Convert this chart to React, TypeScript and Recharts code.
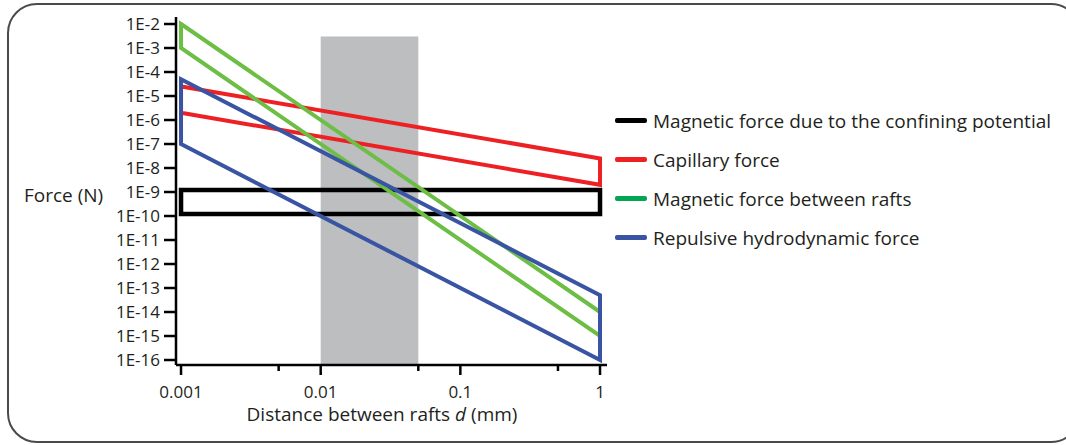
import React from 'react';
import { ComposedChart, Line, XAxis, YAxis, ReferenceArea, Label } from 'recharts';

// ---- data ----
const distanceEnds = [0.001, 1];
const xMajorTicks = [0.001, 0.01, 0.1, 1];
const xMajorLabels = ['0.001', '0.01', '0.1', '1'];
const xMinorTicks = [0.005, 0.05, 0.5];
const yTicks = [1e-2, 1e-3, 1e-4, 1e-5, 1e-6, 1e-7, 1e-8, 1e-9, 1e-10, 1e-11, 1e-12, 1e-13, 1e-14, 1e-15, 1e-16];
const yTickLabels = ['1E-2', '1E-3', '1E-4', '1E-5', '1E-6', '1E-7', '1E-8', '1E-9', '1E-10', '1E-11', '1E-12', '1E-13', '1E-14', '1E-15', '1E-16'];

const seriesNames = [
  'Magnetic force due to the confining potential',
  'Capillary force',
  'Magnetic force between rafts',
  'Repulsive hydrodynamic force',
];
const lineColors = ['#000000', '#ed2024', '#6dbe45', '#3a54a4'];
const legendColors = ['#000000', '#ed2024', '#00a651', '#3a54a4'];

const confiningUpper = [1.2e-9, 1.2e-9];
const confiningLower = [1.2e-10, 1.2e-10];
const capillaryUpper = [2.5e-5, 2.5e-8];
const capillaryLower = [2e-6, 2e-9];
const raftsUpper = [1e-2, 1e-14];
const raftsLower = [1e-3, 1e-15];
const hydroUpper = [5e-5, 5e-14];
const hydroLower = [1e-7, 1e-16];

const shadedRange = [0.01, 0.05];
const shadedTop = 3e-3;

const xDomain = [Math.pow(10, -3.036), Math.pow(10, 0.05)];
const yDomain = [Math.pow(10, -16.208), Math.pow(10, -1.708)];

// build closed band polygons (upper edge, right side, lower edge, left side)
const band = (upper: number[], lower: number[]) => [
  { x: distanceEnds[0], y: upper[0] },
  { x: distanceEnds[1], y: upper[1] },
  { x: distanceEnds[1], y: lower[1] },
  { x: distanceEnds[0], y: lower[0] },
  { x: distanceEnds[0], y: upper[0] },
  { x: distanceEnds[1], y: upper[1] },
];

const bands = [
  band(confiningUpper, confiningLower),
  band(capillaryUpper, capillaryLower),
  band(raftsUpper, raftsLower),
  band(hydroUpper, hydroLower),
];
const drawOrder = [1, 0, 2, 3];

const FONT = '"Open Sans", "Noto Sans", sans-serif';
const TEXT = '#231f20';

const XTick = (props: any) => {
  const { x, y, payload } = props;
  const idx = xMajorTicks.indexOf(payload.value);
  const major = idx >= 0;
  return (
    <g>
      <line x1={x} x2={x} y1={y} y2={y + (major ? 10 : 6)} stroke="#000" strokeWidth={2.5} />
      {major && (
        <text x={x} y={y + 33} textAnchor="middle" fontFamily={FONT} fontSize={17} fill={TEXT}>
          {xMajorLabels[idx]}
        </text>
      )}
    </g>
  );
};

const YTick = (props: any) => {
  const { x, y, payload } = props;
  const idx = yTicks.findIndex((t) => Math.abs(Math.log10(t) - Math.log10(payload.value)) < 1e-6);
  return (
    <g>
      <line x1={x - 12} x2={x} y1={y} y2={y} stroke="#000" strokeWidth={2.5} />
      <text x={x - 16} y={y + 6} textAnchor="end" fontFamily={FONT} fontSize={17} fill={TEXT}>
        {idx >= 0 ? yTickLabels[idx] : ''}
      </text>
    </g>
  );
};

export default function App() {
  return (
    <div style={{ position: 'absolute', left: 0, top: 0, width: 1066, height: 445, background: '#fff', overflow: 'hidden' }}>
      <div
        style={{
          position: 'absolute',
          left: 7,
          top: 3,
          width: 1070,
          height: 436,
          border: '2px solid #4a4a4a',
          borderRadius: 30,
        }}
      />
      <div style={{ position: 'absolute', left: 0, top: 0 }}>
        <ComposedChart width={1066} height={445} margin={{ top: 17, right: 459, bottom: 50, left: 0 }}>
          <XAxis
            dataKey="x"
            type="number"
            scale="log"
            domain={xDomain}
            allowDataOverflow
            ticks={[...xMajorTicks, ...xMinorTicks]}
            tick={<XTick />}
            tickLine={false}
            tickSize={0}
            tickMargin={0}
            height={30}
            axisLine={{ stroke: '#000', strokeWidth: 2.5 }}
            interval={0}
          >
            <Label
              content={() => (
                <text x={382} y={421} textAnchor="middle" fontFamily={FONT} fontSize={19} fill={TEXT}>
                  Distance between rafts <tspan fontStyle="italic">d</tspan> (mm)
                </text>
              )}
            />
          </XAxis>
          <YAxis
            type="number"
            scale="log"
            domain={yDomain}
            allowDataOverflow
            ticks={yTicks}
            tick={<YTick />}
            tickLine={false}
            tickSize={0}
            tickMargin={0}
            width={176}
            axisLine={{ stroke: '#000', strokeWidth: 2.5 }}
            interval={0}
          >
            <Label
              content={() => (
                <text x={24} y={202} textAnchor="start" fontFamily={FONT} fontSize={19} fill={TEXT}>
                  Force (N)
                </text>
              )}
            />
          </YAxis>
          <ReferenceArea
            x1={shadedRange[0]}
            x2={shadedRange[1]}
            y1={yDomain[0]}
            y2={shadedTop}
            fill="#bcbec0"
            fillOpacity={1}
            stroke="none"
          />
          {drawOrder.map((i) => (
            <Line
              key={seriesNames[i]}
              name={seriesNames[i]}
              data={bands[i]}
              dataKey="y"
              type="linear"
              stroke={lineColors[i]}
              strokeWidth={i === 0 ? 4.5 : 4}
              strokeLinejoin="miter"
              dot={false}
              activeDot={false}
              isAnimationActive={false}
            />
          ))}
        </ComposedChart>
      </div>
      <div style={{ position: 'absolute', left: 615, top: 101, fontFamily: FONT, fontSize: 19, color: TEXT }}>
        {seriesNames.map((n, i) => (
          <div key={n} style={{ display: 'flex', alignItems: 'center', height: 39 }}>
            <div style={{ width: 32, height: 4.5, background: legendColors[i], borderRadius: 2, marginRight: 6 }} />
            <span style={{ whiteSpace: 'nowrap' }}>{n}</span>
          </div>
        ))}
      </div>
    </div>
  );
}
